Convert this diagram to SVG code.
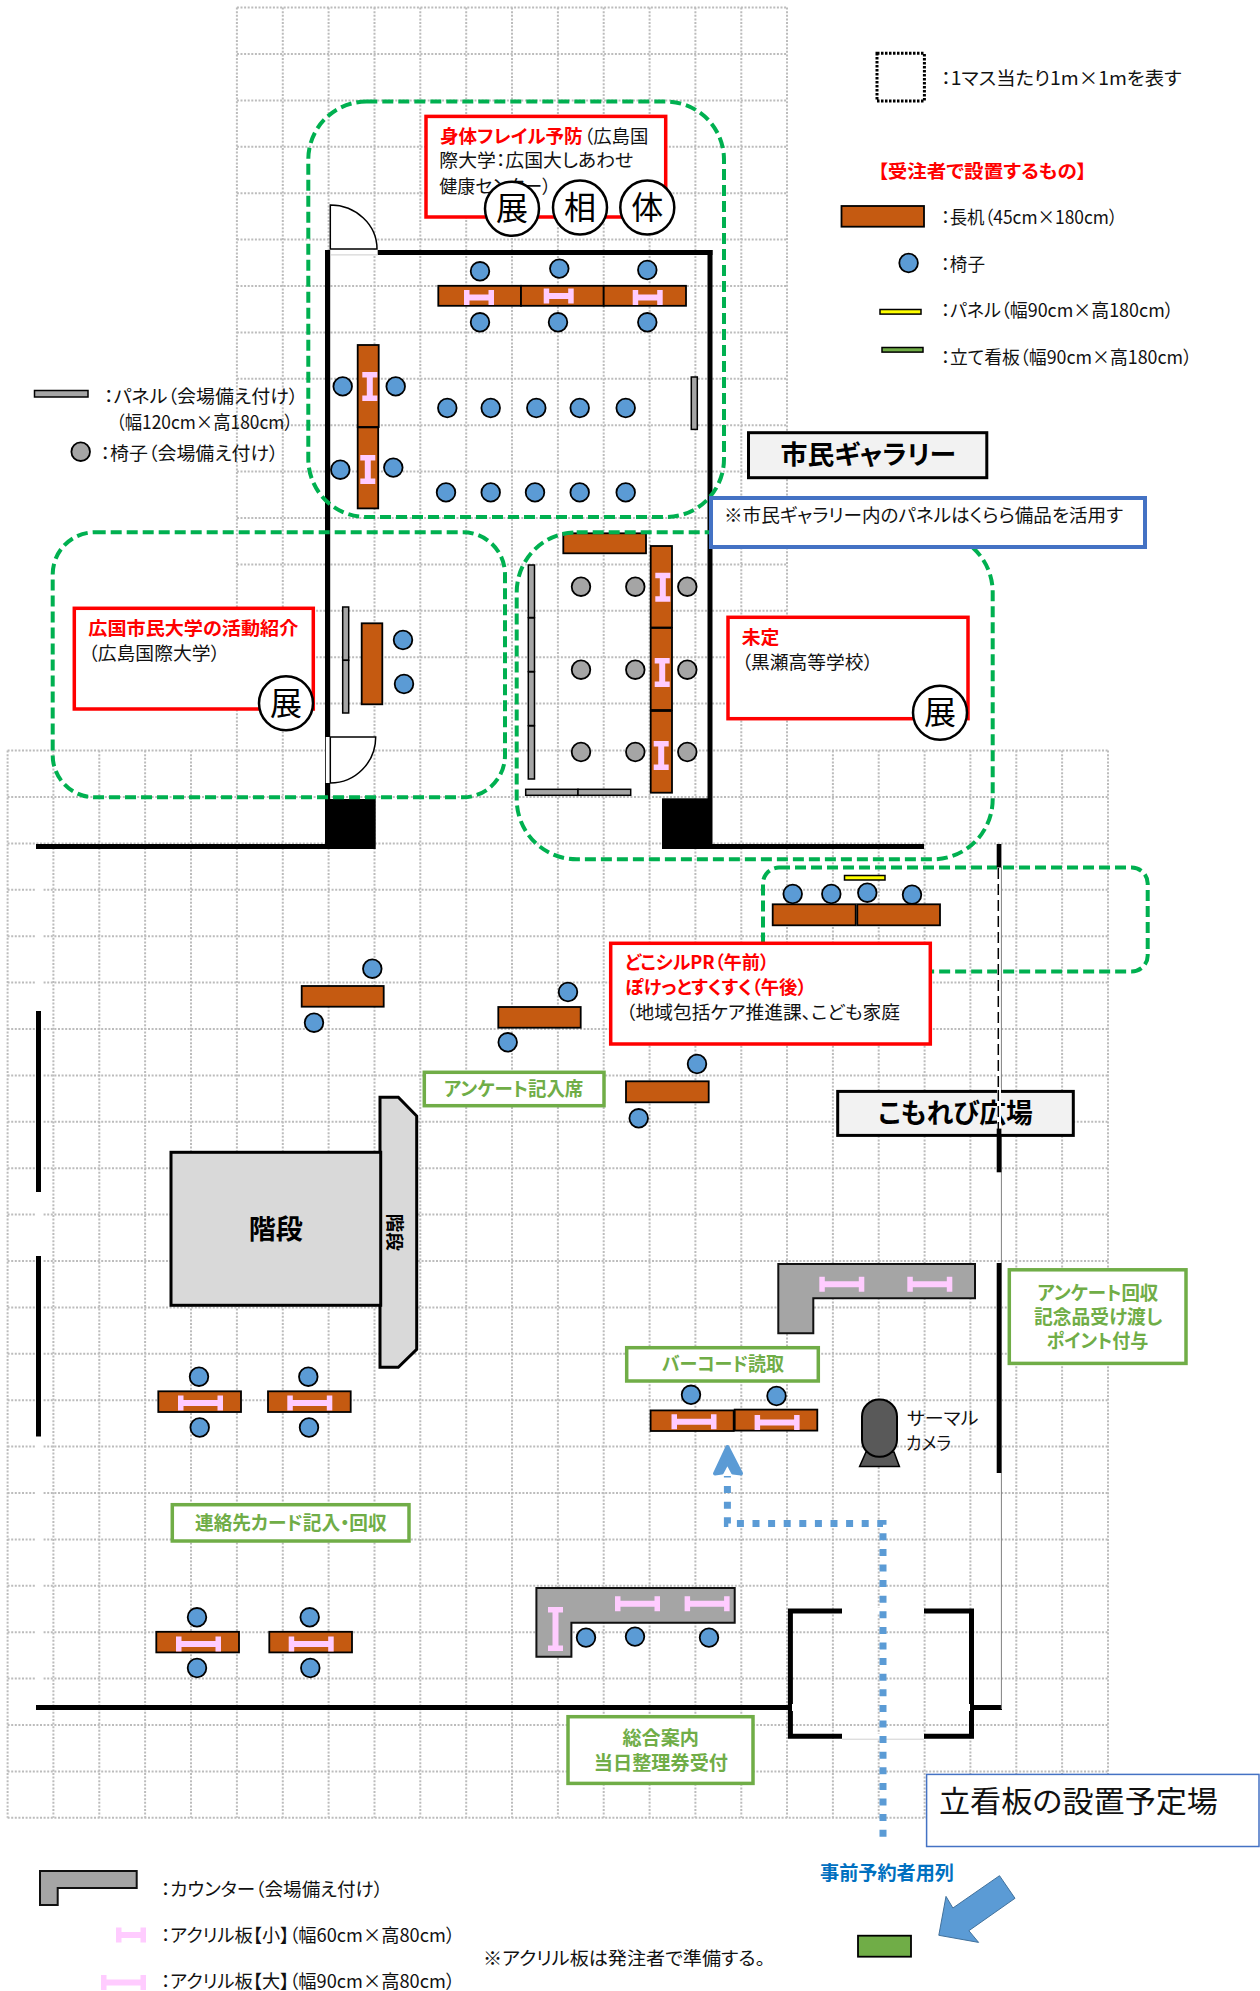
<svg xmlns="http://www.w3.org/2000/svg" xmlns:xlink="http://www.w3.org/1999/xlink" width="1260" height="1991" viewBox="0 0 1260 1991">
<style>
text{font-family:"Noto Sans CJK JP","Noto Sans",sans-serif;font-feature-settings:"palt";fill:#111;font-size:18.5px}
.b{font-weight:700;fill:#f00}.g{font-weight:700;fill:#70ad47;font-size:19px}
.k{font-weight:700;fill:#000}
.m{text-anchor:middle;font-size:32px;fill:#000}
.grid{stroke:#bcbcbc;stroke-width:2;stroke-dasharray:2 1.6;fill:none}
.desk{fill:#c55a11;stroke:#000;stroke-width:1.8}
.ch{fill:#5b9bd5;stroke:#000;stroke-width:1.8}
.cg{fill:#a5a5a5;stroke:#000;stroke-width:1.8}
.pn{fill:#a5a5a5;stroke:#000;stroke-width:1.5}
.wall{fill:#000}
.zone{fill:none;stroke:#00b050;stroke-width:4;stroke-dasharray:11 5}
.red{fill:#fff;stroke:#f00;stroke-width:3.5}
.lab{fill:#fff;stroke:#70ad47;stroke-width:3.5}
.cir{fill:#fff;stroke:#000;stroke-width:2.5}
.ctr{fill:#a5a5a5;stroke:#111;stroke-width:2}
.stair{fill:#d9d9d9;stroke:#000;stroke-width:3}
.title{fill:#f2f2f2;stroke:#000;stroke-width:3}
.dot{fill:none;stroke:#5b9bd5;stroke-width:7;stroke-dasharray:7 8.6}
.ac{fill:#ffccff}
</style>
<defs>
<path id="as" class="ac" d="M0 0h5.5v4.5h19v-4.5h5.5v15h-5.5v-4.5h-19v4.5h-5.5z"/>
<path id="al" class="ac" d="M0 0h5.5v4.5h34v-4.5h5.5v15h-5.5v-4.5h-34v4.5h-5.5z"/>
<path id="vs" class="ac" d="M0 0h15v5.5h-4.5v18h4.5v5.5h-15v-5.5h4.5v-18h-4.5z"/>
<path id="vl" class="ac" d="M0 0h15v5.5h-4.5v33h4.5v5.5h-15v-5.5h4.5v-33h-4.5z"/>
</defs>
<rect width="1260" height="1991" fill="#fff"/>
<g id="grid" class="grid">
<path d="M236.9 7.6H787M236.9 54H787M236.9 100.4H787M236.9 146.8H787M236.9 193.2H787M236.9 239.6H787M236.9 286H787M236.9 332.4H787M236.9 378.8H787M236.9 425.2H787M236.9 471.6H787M236.9 518H787M236.9 564.4H787M236.9 610.8H787M236.9 657.2H787M236.9 703.6H787"/>
<path d="M236.9 7.6V750M282.8 7.6V750M328.6 7.6V750M374.5 7.6V750M420.3 7.6V750M466.2 7.6V750M512 7.6V750M557.9 7.6V750M603.7 7.6V750M649.6 7.6V750M695.4 7.6V750M741.3 7.6V750M787 7.6V750"/>
<path d="M7.6 750.6H1108M7.6 797H1108M7.6 843.4H1108M7.6 889.8H1108M7.6 936.2H1108M7.6 982.6H1108M7.6 1029H1108M7.6 1075.4H1108M7.6 1121.8H1108M7.6 1168.2H1108M7.6 1214.6H1108M7.6 1261H1108M7.6 1307.4H1108M7.6 1353.8H1108M7.6 1400.2H1108M7.6 1446.6H1108M7.6 1493H1108M7.6 1539.4H1108M7.6 1585.8H1108M7.6 1632.2H1108M7.6 1678.6H1108M7.6 1725H1108M7.6 1771.4H1108M7.6 1817.8H1108"/>
<path d="M7.6 750.6V1817.8M53.4 750.6V1817.8M99.3 750.6V1817.8M145.1 750.6V1817.8M191 750.6V1817.8M236.9 750.6V1817.8M282.8 750.6V1817.8M328.6 750.6V1817.8M374.5 750.6V1817.8M420.3 750.6V1817.8M466.2 750.6V1817.8M512 750.6V1817.8M557.9 750.6V1817.8M603.7 750.6V1817.8M649.6 750.6V1817.8M695.4 750.6V1817.8M741.3 750.6V1817.8M787 750.6V1817.8M832.9 750.6V1817.8M878.7 750.6V1817.8M924.6 750.6V1817.8M970.4 750.6V1817.8M1016.3 750.6V1817.8M1062.1 750.6V1817.8M1108 750.6V1817.8"/>
</g>
<g id="walls">
<rect x="35" y="846" width="7" height="862" fill="#fff"/>
<rect class="wall" x="325" y="250" width="387.5" height="5"/>
<rect class="wall" x="325" y="250" width="5.2" height="550"/>
<rect class="wall" x="707.5" y="250" width="5" height="599"/>
<rect x="330.2" y="250" width="47.5" height="5" fill="#fff"/>
<rect x="330.2" y="254.4" width="47.5" height="1" fill="#ccc"/>
<rect x="325.8" y="737" width="4.4" height="46" fill="#fff"/>
<rect class="wall" x="325" y="799" width="50.7" height="50"/>
<rect class="wall" x="662" y="798.3" width="46" height="50.7"/>
<rect class="wall" x="36" y="844" width="290" height="5"/>
<rect class="wall" x="662" y="844" width="262" height="5"/>
<rect class="wall" x="36" y="1011" width="5" height="181"/>
<rect class="wall" x="36" y="1256" width="5" height="180.5"/>
<rect class="wall" x="36" y="1705" width="755" height="5"/>
<rect class="wall" x="974" y="1705" width="28" height="5"/>
<path d="M842 1611H790.4V1736.3H842M924 1611H971.5V1736.3H924" fill="none" stroke="#000" stroke-width="5"/>
<rect x="842" y="1608" width="82" height="6" fill="#fff"/>
<rect x="842" y="1734" width="82" height="5" fill="#fff"/>
<path d="M842 1739.2H924" stroke="#d0d0d0" stroke-width="1"/>
<rect x="792" y="1704" width="2.5" height="7" fill="#fff"/>
<rect x="967.5" y="1704" width="2.5" height="7" fill="#fff"/>
</g>
<g id="doors" fill="#fff" stroke="#000" stroke-width="1.5">
<path d="M330.3 249V205A47 44 0 0 1 377 249Z"/>
<path d="M330.3 737H375.7A45.4 46 0 0 1 330.3 783Z"/>
</g>
<g id="stairs">
<polygon class="stair" points="380,1097.3 398.3,1097.3 416.7,1116 416.7,1349.3 398.3,1367.3 380,1367.3"/>
<rect class="stair" x="171" y="1152.3" width="209.7" height="153"/>
<text class="k" x="275.7" y="1239" text-anchor="middle" style="font-size:27px">階段</text>
<text class="k" transform="translate(394 1232.3) rotate(90)" y="6.5" text-anchor="middle" style="font-size:18.5px">階段</text>
</g>
<g id="panels">
<rect class="pn" x="691.3" y="377" width="6" height="52.4"/>
<rect class="pn" x="342.7" y="607" width="6" height="53.3"/><rect class="pn" x="342.7" y="660.3" width="6" height="52.7"/>
<rect class="pn" x="528.3" y="565" width="6.2" height="52.5"/><rect class="pn" x="528.3" y="618" width="6.2" height="53.5"/><rect class="pn" x="528.3" y="672" width="6.2" height="53.5"/><rect class="pn" x="528.3" y="726" width="6.2" height="53"/>
<rect class="pn" x="525.7" y="789.3" width="52.3" height="6"/><rect class="pn" x="578" y="789.3" width="52.7" height="6"/>
</g>
<g id="gallery-chairs-grey">
<circle class="cg" cx="581" cy="586.7" r="9.3"/><circle class="cg" cx="635.3" cy="586.7" r="9.3"/><circle class="cg" cx="687.3" cy="586.7" r="9.3"/>
<circle class="cg" cx="581" cy="669.7" r="9.3"/><circle class="cg" cx="635.3" cy="669.7" r="9.3"/><circle class="cg" cx="687.3" cy="669.7" r="9.3"/>
<circle class="cg" cx="581" cy="752" r="9.3"/><circle class="cg" cx="635.3" cy="752" r="9.3"/><circle class="cg" cx="687.3" cy="752" r="9.3"/>
</g>
<g id="desks">
<rect class="desk" x="438.3" y="285.8" width="82.7" height="20"/><rect class="desk" x="521" y="285.8" width="82.7" height="20"/><rect class="desk" x="603.7" y="285.8" width="82.3" height="20"/>
<rect class="desk" x="357.7" y="345" width="21" height="82"/><rect class="desk" x="357.7" y="427.4" width="20.5" height="81"/>
<rect class="desk" x="361.7" y="623.3" width="20.6" height="81"/>
<rect class="desk" x="563.3" y="533.3" width="82.7" height="20"/>
<rect class="desk" x="650.7" y="546" width="21.3" height="81.5"/><rect class="desk" x="650.7" y="628" width="21.3" height="82"/><rect class="desk" x="650.7" y="711" width="21.3" height="81.7"/>
<rect class="desk" x="772.7" y="904.3" width="83" height="21"/><rect class="desk" x="857.3" y="904.3" width="82.7" height="21"/>
<rect class="desk" x="626" y="1081.3" width="82.7" height="21"/>
<rect class="desk" x="498.3" y="1007" width="82.4" height="20.7"/>
<rect class="desk" x="301.7" y="986" width="82" height="20.7"/>
<rect class="desk" x="158.3" y="1391.3" width="82.7" height="20.7"/><rect class="desk" x="268" y="1391.3" width="82.7" height="20.7"/>
<rect class="desk" x="156.3" y="1631.8" width="82.7" height="20.6"/><rect class="desk" x="269.3" y="1631.8" width="82.7" height="20.6"/>
<rect class="desk" x="650.6" y="1410.4" width="83.1" height="20.6"/><rect class="desk" x="734.7" y="1409.6" width="82.6" height="21"/>
</g>
<g id="counters">
<polygon class="ctr" points="778.3,1264 975,1264 975,1298.3 813.3,1298.3 813.3,1333.3 778.3,1333.3"/>
<polygon class="ctr" points="536.4,1588 734.7,1588 734.7,1622.8 571.4,1622.8 571.4,1656.7 536.4,1656.7"/>
</g>
<g id="acrylic">
<use href="#as" x="464" y="290"/><use href="#as" x="543.7" y="288.6"/><use href="#as" x="632.7" y="290"/>
<use href="#vs" x="362.3" y="372"/><use href="#vs" x="360.3" y="455"/><use href="#vs" x="655.3" y="572.7"/><use href="#vs" x="654.7" y="658"/><use href="#vs" x="653.7" y="741"/>
<use href="#al" x="178" y="1395.6"/><use href="#al" x="287.3" y="1395.6"/><use href="#al" x="176" y="1636.4"/><use href="#al" x="288.7" y="1636.4"/>
<use href="#al" x="671.5" y="1414.3"/><use href="#al" x="754.6" y="1415"/><use href="#al" x="819.3" y="1276.7"/><use href="#al" x="907.3" y="1276.7"/>
<use href="#al" x="615" y="1596.3"/><use href="#al" x="684.6" y="1596.3"/><use href="#vl" x="548" y="1607"/>
</g>
<g id="chairs">
<circle class="ch" cx="480" cy="271.3" r="9.3"/><circle class="ch" cx="559.3" cy="268.6" r="9.3"/><circle class="ch" cx="647.3" cy="270" r="9.3"/>
<circle class="ch" cx="480" cy="322.3" r="9.3"/><circle class="ch" cx="558" cy="322.3" r="9.3"/><circle class="ch" cx="647.3" cy="322.3" r="9.3"/>
<circle class="ch" cx="342.7" cy="386.4" r="9.3"/><circle class="ch" cx="395.7" cy="386.4" r="9.3"/><circle class="ch" cx="340.3" cy="469.7" r="9.3"/><circle class="ch" cx="393.3" cy="467.6" r="9.3"/>
<circle class="ch" cx="447.3" cy="408" r="9.3"/><circle class="ch" cx="490.7" cy="408" r="9.3"/><circle class="ch" cx="536.3" cy="408" r="9.3"/><circle class="ch" cx="579.7" cy="408" r="9.3"/><circle class="ch" cx="625.7" cy="408" r="9.3"/>
<circle class="ch" cx="446" cy="492.4" r="9.3"/><circle class="ch" cx="490.7" cy="492.4" r="9.3"/><circle class="ch" cx="535" cy="492.4" r="9.3"/><circle class="ch" cx="579.7" cy="492.4" r="9.3"/><circle class="ch" cx="625.7" cy="492.4" r="9.3"/>
<circle class="ch" cx="403" cy="640" r="9.3"/><circle class="ch" cx="404" cy="684" r="9.3"/>
<circle class="ch" cx="792.7" cy="894" r="9.3"/><circle class="ch" cx="831.3" cy="894" r="9.3"/><circle class="ch" cx="867.3" cy="892.7" r="9.3"/><circle class="ch" cx="912" cy="894.7" r="9.3"/>
<circle class="ch" cx="697" cy="1064" r="9.3"/><circle class="ch" cx="638.7" cy="1118.3" r="9.3"/>
<circle class="ch" cx="568" cy="992" r="9.3"/><circle class="ch" cx="507.7" cy="1042.3" r="9.3"/>
<circle class="ch" cx="372.3" cy="968.7" r="9.3"/><circle class="ch" cx="314" cy="1022.7" r="9.3"/>
<circle class="ch" cx="199" cy="1376.7" r="9.3"/><circle class="ch" cx="308.3" cy="1376.7" r="9.3"/><circle class="ch" cx="199.7" cy="1427.5" r="9.3"/><circle class="ch" cx="309" cy="1427.5" r="9.3"/>
<circle class="ch" cx="197" cy="1617.3" r="9.3"/><circle class="ch" cx="309.7" cy="1617.3" r="9.3"/><circle class="ch" cx="197" cy="1668" r="9.3"/><circle class="ch" cx="310.3" cy="1668" r="9.3"/>
<circle class="ch" cx="691" cy="1394.8" r="9.3"/><circle class="ch" cx="776.5" cy="1396" r="9.3"/>
<circle class="ch" cx="586" cy="1637.6" r="9.3"/><circle class="ch" cx="635" cy="1636.6" r="9.3"/><circle class="ch" cx="709" cy="1637.6" r="9.3"/>
</g>
<rect id="yellow-panel" x="844.5" y="875.5" width="40.5" height="4.5" fill="#ff0" stroke="#000" stroke-width="1.5"/>
<g id="zones">
<rect class="zone" x="308.3" y="101.6" width="415.7" height="415.4" rx="58"/>
<rect class="zone" x="52.7" y="532.3" width="452.3" height="265" rx="42"/>
<rect class="zone" x="516.7" y="532.3" width="476" height="327" rx="60"/>
<rect class="zone" x="763" y="867.6" width="384.7" height="103.8" rx="16"/>
</g>
<g id="right-wall">
<rect x="997" y="867" width="4" height="262" fill="#fff"/>
<path d="M1001.4 867V1709" stroke="#808080" stroke-width="1" fill="none"/>
<path d="M998.3 868V1129" stroke="#000" stroke-width="1.5" stroke-dasharray="11 5" fill="none"/>
</g>
<g id="titles">
<rect class="title" x="748.5" y="432.7" width="238.3" height="45"/>
<text class="k" x="780.5" y="464" textLength="175.5" lengthAdjust="spacingAndGlyphs" style="font-size:26px">市民ギャラリー</text>
<rect class="title" x="837.7" y="1091.4" width="235.6" height="44"/>
<text class="k" x="878.3" y="1123" textLength="154.4" lengthAdjust="spacingAndGlyphs" style="font-size:27px">こもれび広場</text>
<rect x="997" y="1088" width="4" height="41" fill="#fff"/>
<path d="M998.3 1090V1129" stroke="#000" stroke-width="1.5" stroke-dasharray="11 5" fill="none"/>
<rect class="wall" x="996.7" y="844" width="4.7" height="23.5"/>
<rect class="wall" x="996.7" y="1128.6" width="4.7" height="43.7"/>
<rect class="wall" x="996.7" y="1263" width="4.7" height="210"/>
</g>
<g id="node-blue-note">
<rect x="711" y="498" width="434" height="49" fill="#fff" stroke="#4472c4" stroke-width="4"/>
<text x="724" y="522" textLength="399" lengthAdjust="spacingAndGlyphs">※市民ギャラリー内のパネルはくらら備品を活用す</text>
</g>
<g id="node-frailty">
<rect class="red" x="426" y="116.4" width="239.7" height="100.6"/>
<text class="b" x="440" y="143" textLength="142.7" lengthAdjust="spacingAndGlyphs">身体フレイル予防</text>
<text x="584" y="143" textLength="64.3" lengthAdjust="spacingAndGlyphs">（広島国</text>
<text x="439.3" y="167" textLength="194" lengthAdjust="spacingAndGlyphs">際大学：広国大しあわせ</text>
<text x="439.3" y="193" textLength="112" lengthAdjust="spacingAndGlyphs">健康センター）</text>
<circle class="cir" cx="512" cy="208.7" r="27"/><text class="m" x="512" y="220">展</text>
<circle class="cir" cx="580" cy="207.6" r="27"/><text class="m" x="580" y="219">相</text>
<circle class="cir" cx="647.3" cy="207.6" r="27"/><text class="m" x="647.3" y="219">体</text>
</g>
<g id="node-citizen-univ">
<rect class="red" x="74.3" y="608.3" width="239" height="100.7"/>
<text class="b" x="88.3" y="635" textLength="210" lengthAdjust="spacingAndGlyphs">広国市民大学の活動紹介</text>
<text x="88.3" y="660" textLength="131.7" lengthAdjust="spacingAndGlyphs">（広島国際大学）</text>
<circle class="cir" cx="286" cy="703.3" r="27"/><text class="m" x="286" y="714.5">展</text>
</g>
<g id="node-undecided">
<rect class="red" x="728" y="617.3" width="240" height="101.4"/>
<text class="b" x="741.7" y="644" textLength="37.6" lengthAdjust="spacingAndGlyphs">未定</text>
<text x="741.7" y="669" textLength="131.3" lengthAdjust="spacingAndGlyphs">（黒瀬高等学校）</text>
<circle class="cir" cx="940" cy="712.7" r="27"/><text class="m" x="940" y="724">展</text>
</g>
<g id="node-dokoshiru">
<rect class="red" x="610.7" y="943.3" width="319.6" height="100.7"/>
<text class="b" x="625" y="969" textLength="144" lengthAdjust="spacingAndGlyphs">どこシルPR（午前）</text>
<text class="b" x="625" y="994" textLength="181.7" lengthAdjust="spacingAndGlyphs">ぽけっとすくすく（午後）</text>
<text x="626" y="1019" textLength="274" lengthAdjust="spacingAndGlyphs">（地域包括ケア推進課、こども家庭</text>
</g>
<g id="node-labels">
<rect class="lab" x="424.3" y="1072.3" width="179.7" height="33.4"/>
<text class="g" x="444" y="1096" textLength="139.3" lengthAdjust="spacingAndGlyphs">アンケート記入席</text>
<rect class="lab" x="626.7" y="1347.7" width="191.6" height="33.3"/>
<text class="g" x="662" y="1371" textLength="122" lengthAdjust="spacingAndGlyphs">バーコード読取</text>
<rect class="lab" x="172.3" y="1504.7" width="236.7" height="36.3"/>
<text class="g" x="195" y="1529.6" textLength="191.7" lengthAdjust="spacingAndGlyphs">連絡先カード記入・回収</text>
<rect class="lab" x="568" y="1716.7" width="185" height="66.7"/>
<text class="g" x="622.4" y="1745" textLength="76.6" lengthAdjust="spacingAndGlyphs">総合案内</text>
<text class="g" x="593.8" y="1770" textLength="134.2" lengthAdjust="spacingAndGlyphs">当日整理券受付</text>
<rect class="lab" x="1009.3" y="1269.8" width="176.7" height="93.6"/>
<text class="g" x="1037.3" y="1300" textLength="121" lengthAdjust="spacingAndGlyphs">アンケート回収</text>
<text class="g" x="1034" y="1324" textLength="128.3" lengthAdjust="spacingAndGlyphs">記念品受け渡し</text>
<text class="g" x="1046.7" y="1348" textLength="101.6" lengthAdjust="spacingAndGlyphs">ポイント付与</text>
</g>
<g id="node-camera">
<polygon points="866,1452 894,1452 899.4,1466.5 859.6,1466.5" fill="#595959" stroke="#000" stroke-width="1.5"/>
<rect x="862" y="1399.5" width="35" height="57.3" rx="17" fill="#595959" stroke="#000" stroke-width="2"/>
<text x="907" y="1424.5" textLength="71.4" lengthAdjust="spacingAndGlyphs" style="font-size:18px">サーマル</text>
<text x="906" y="1449.5" textLength="45" lengthAdjust="spacingAndGlyphs" style="font-size:18px">カメラ</text>
</g>
<g id="connectors">
<path class="dot" d="M883 1836.7V1523.4H727.4V1476"/>
<path d="M727.4 1447L741 1473.5L733 1472.5L727.4 1462L721.8 1472.5L715 1473.5Z" fill="#5b9bd5" stroke="#5b9bd5" stroke-width="4" stroke-linejoin="round"/>
<polygon points="999.5,1875.7 952.9,1908 946,1896.4 938.8,1935.3 978.6,1942.4 968.9,1930.7 1015,1898.3" fill="#5b9bd5" stroke="#41719c" stroke-width="1"/>
</g>
<g id="node-signboard">
<rect x="926.6" y="1774.4" width="332.4" height="72.1" fill="#fff" stroke="#4472c4" stroke-width="1.5"/>
<text x="939" y="1812" textLength="279" lengthAdjust="spacingAndGlyphs" style="font-size:30px">立看板の設置予定場</text>
<text x="820" y="1880" textLength="134" lengthAdjust="spacingAndGlyphs" style="font-size:19px;font-weight:700;fill:#0070c0">事前予約者用列</text>
<rect x="858" y="1935.7" width="53" height="21" fill="#70ad47" stroke="#000" stroke-width="1.8"/>
</g>
<g id="legend-right">
<rect x="877" y="53.3" width="47.4" height="47.7" fill="none" stroke="#000" stroke-width="3" stroke-dasharray="2.5 1.5"/>
<text x="941" y="85" textLength="240.6" lengthAdjust="spacingAndGlyphs">：1マス当たり1m×1mを表す</text>
<text class="b" x="878" y="178" textLength="208.5" lengthAdjust="spacingAndGlyphs">【受注者で設置するもの】</text>
<rect class="desk" x="841.5" y="206" width="82.5" height="20.7"/>
<text x="941" y="224" textLength="176.7" lengthAdjust="spacingAndGlyphs">：長机（45cm×180cm）</text>
<circle class="ch" cx="908.6" cy="263" r="9.3"/>
<text x="941" y="270.5" textLength="44" lengthAdjust="spacingAndGlyphs">：椅子</text>
<rect x="880" y="309.5" width="41" height="4.6" fill="#ff0" stroke="#000" stroke-width="1.5"/>
<text x="941" y="317" textLength="232.7" lengthAdjust="spacingAndGlyphs">：パネル（幅90cm×高180cm）</text>
<rect x="882" y="347.5" width="41" height="4.6" fill="#70ad47" stroke="#000" stroke-width="1.5"/>
<text x="941" y="364" textLength="251" lengthAdjust="spacingAndGlyphs">：立て看板（幅90cm×高180cm）</text>
</g>
<g id="legend-left">
<rect class="pn" x="34.5" y="390.5" width="53.5" height="6.5"/>
<text x="104" y="403" textLength="194.3" lengthAdjust="spacingAndGlyphs">：パネル（会場備え付け）</text>
<text x="116" y="428.5" textLength="177" lengthAdjust="spacingAndGlyphs">（幅120cm×高180cm）</text>
<circle class="cg" cx="80.7" cy="451.7" r="9.3"/>
<text x="100.5" y="460" textLength="178" lengthAdjust="spacingAndGlyphs">：椅子（会場備え付け）</text>
</g>
<g id="legend-bottom">
<polygon class="ctr" points="40,1871 136.7,1871 136.7,1888 57.7,1888 57.7,1905 40,1905"/>
<text x="161" y="1895.6" textLength="222" lengthAdjust="spacingAndGlyphs">：カウンター（会場備え付け）</text>
<use href="#as" x="116" y="1927.5"/>
<text x="161" y="1942" textLength="294" lengthAdjust="spacingAndGlyphs">：アクリル板【小】（幅60cm×高80cm）</text>
<use href="#al" x="101" y="1975"/>
<text x="161" y="1988" textLength="294" lengthAdjust="spacingAndGlyphs">：アクリル板【大】（幅90cm×高80cm）</text>
<text x="483" y="1964.5" textLength="282" lengthAdjust="spacingAndGlyphs">※アクリル板は発注者で準備する。</text>
</g>
</svg>
